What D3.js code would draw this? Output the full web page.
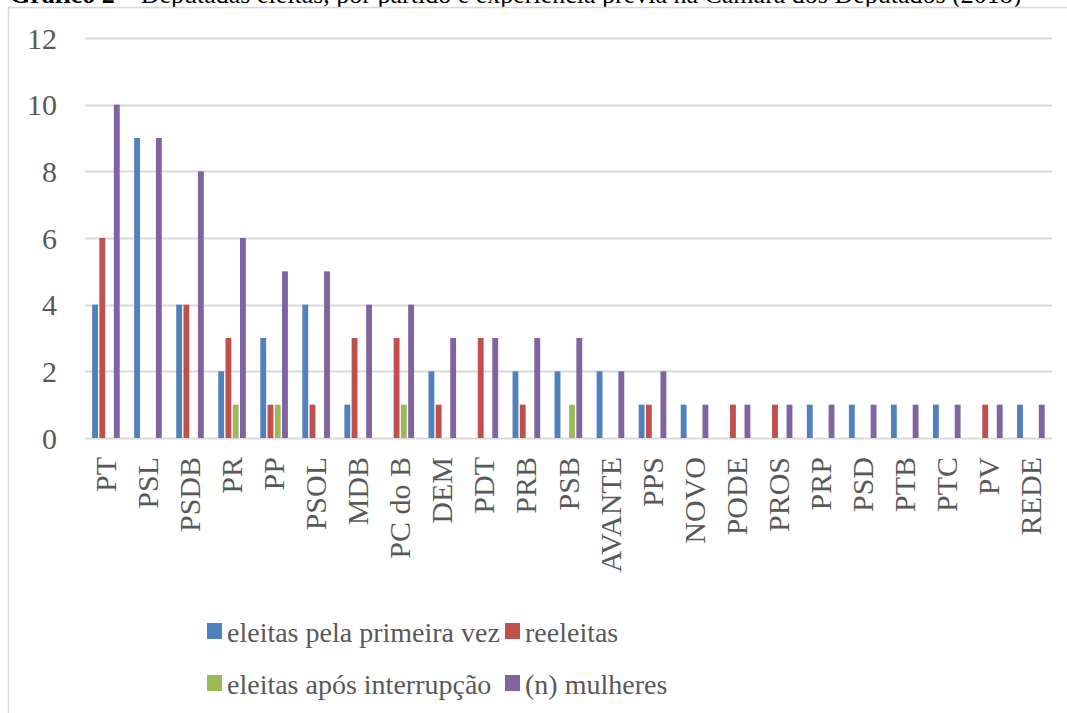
<!DOCTYPE html>
<html>
<head>
<meta charset="utf-8">
<script src="https://cdn.jsdelivr.net/npm/d3@7"></script>
<style>
  body { margin: 0; background: #fff; }
  svg { display: block; }
  svg text { font-family: "Liberation Serif", "Times New Roman", serif; }
</style>
</head>
<body>
<div id="wrapper"></div>
<script>
const partidos = ["PT", "PSL", "PSDB", "PR", "PP", "PSOL", "MDB", "PC do B", "DEM", "PDT", "PRB", "PSB",
  "AVANTE", "PPS", "NOVO", "PODE", "PROS", "PRP", "PSD", "PTB", "PTC", "PV", "REDE"];
const primeiraVez = [4, 9, 4, 2, 3, 4, 1, 0, 2, 0, 2, 2, 2, 1, 1, 0, 0, 1, 1, 1, 1, 0, 1];
const reeleitas = [6, 0, 4, 3, 1, 1, 3, 3, 1, 3, 1, 0, 0, 1, 0, 1, 1, 0, 0, 0, 0, 1, 0];
const aposInterrupcao = [0, 0, 0, 1, 1, 0, 0, 1, 0, 0, 0, 1, 0, 0, 0, 0, 0, 0, 0, 0, 0, 0, 0];
const mulheres = [10, 9, 8, 6, 5, 5, 4, 4, 3, 3, 3, 3, 2, 2, 1, 1, 1, 1, 1, 1, 1, 1, 1];
const yTicks = [0, 2, 4, 6, 8, 10, 12];

const series = [
  { name: "eleitas pela primeira vez", values: primeiraVez, color: "#4F81BD" },
  { name: "reeleitas", values: reeleitas, color: "#C0504D" },
  { name: "eleitas após interrupção", values: aposInterrupcao, color: "#9BBB59" },
  { name: "(n) mulheres", values: mulheres, color: "#8064A2" },
];

function drawChart() {
  const dimensions = { width: 1067, height: 713 };
  const plot = { left: 85, right: 1052, top: 38, bottom: 438 };
  const serif = "Liberation Serif, Times New Roman, serif";

  const svg = d3.select("#wrapper")
    .append("svg")
    .attr("width", dimensions.width)
    .attr("height", dimensions.height);

  // title, cut off at the top of the picture
  const title = svg.append("text")
    .attr("x", 10)
    .attr("y", 3)
    .attr("font-family", serif)
    .attr("font-size", 26)
    .attr("fill", "#000");
  title.append("tspan").attr("font-weight", "bold").text("Gráfico 2 – ");
  title.append("tspan").text("Deputadas eleitas, por partido e experiência prévia na Câmara dos Deputados (2018)");

  // chart frame
  svg.append("rect")
    .attr("x", 8.5)
    .attr("y", 7.5)
    .attr("width", 1100)
    .attr("height", 800)
    .attr("fill", "#fff")
    .attr("stroke", "#d9d9d9")
    .attr("stroke-width", 1.5);

  const y = d3.scaleLinear().domain([0, 12]).range([plot.bottom, plot.top]);
  const x0 = d3.scaleBand().domain(partidos).range([plot.left, plot.right]).padding(0);
  const groupPad = x0.bandwidth() * 0.155;
  const x1 = d3.scaleBand()
    .domain(series.map((s) => s.name))
    .range([groupPad, x0.bandwidth() - groupPad]);

  // gridlines
  svg.append("g")
    .selectAll("line")
    .data(yTicks)
    .enter()
    .append("line")
    .attr("x1", plot.left)
    .attr("x2", plot.right)
    .attr("y1", (d) => Math.round(y(d)) + 0.5)
    .attr("y2", (d) => Math.round(y(d)) + 0.5)
    .attr("stroke", "#d9d9d9")
    .attr("stroke-width", 2);

  // y axis labels
  const yAxis = svg.append("g")
    .attr("transform", `translate(${plot.left - 28},0)`)
    .call(d3.axisLeft(y).tickValues(yTicks).tickSize(0).tickPadding(0));
  yAxis.select(".domain").remove();
  yAxis.selectAll("text")
    .attr("font-family", serif)
    .attr("font-size", 30)
    .attr("fill", "#595959")
    .attr("dy", "0.34em");

  // bars
  const groups = svg.append("g")
    .selectAll("g")
    .data(partidos)
    .enter()
    .append("g")
    .attr("transform", (d) => `translate(${x0(d)},0)`);

  groups.selectAll("rect")
    .data((d, i) => series.map((s) => ({ name: s.name, color: s.color, value: s.values[i] })))
    .enter()
    .append("rect")
    .filter((d) => d.value > 0)
    .attr("x", (d) => x1(d.name) + 0.6)
    .attr("width", x1.bandwidth() - 1.4)
    .attr("y", (d) => y(d.value))
    .attr("height", (d) => y(0) - y(d.value))
    .attr("fill", (d) => d.color);

  // x axis labels
  svg.append("g")
    .selectAll("text")
    .data(partidos)
    .enter()
    .append("text")
    .attr("transform", (d) => `translate(${x0(d) + x0.bandwidth() / 2 + 10},${plot.bottom + 19}) rotate(-90)`)
    .attr("text-anchor", "end")
    .attr("font-family", serif)
    .attr("font-size", 30)
    .attr("fill", "#595959")
    .text((d) => d);

  // legend
  const legendPos = [
    { x: 207, y: 623 }, { x: 505, y: 623 },
    { x: 207, y: 675 }, { x: 505, y: 675 },
  ];
  const legend = svg.append("g")
    .selectAll("g")
    .data(series)
    .enter()
    .append("g")
    .attr("transform", (_, i) => `translate(${legendPos[i].x},${legendPos[i].y})`);
  legend.append("rect")
    .attr("width", 15)
    .attr("height", 16)
    .attr("fill", (d) => d.color);
  legend.append("text")
    .attr("x", 20)
    .attr("y", 19)
    .attr("font-family", serif)
    .attr("font-size", 28)
    .attr("fill", "#595959")
    .text((d) => d.name);
}

drawChart();
</script>
</body>
</html>
